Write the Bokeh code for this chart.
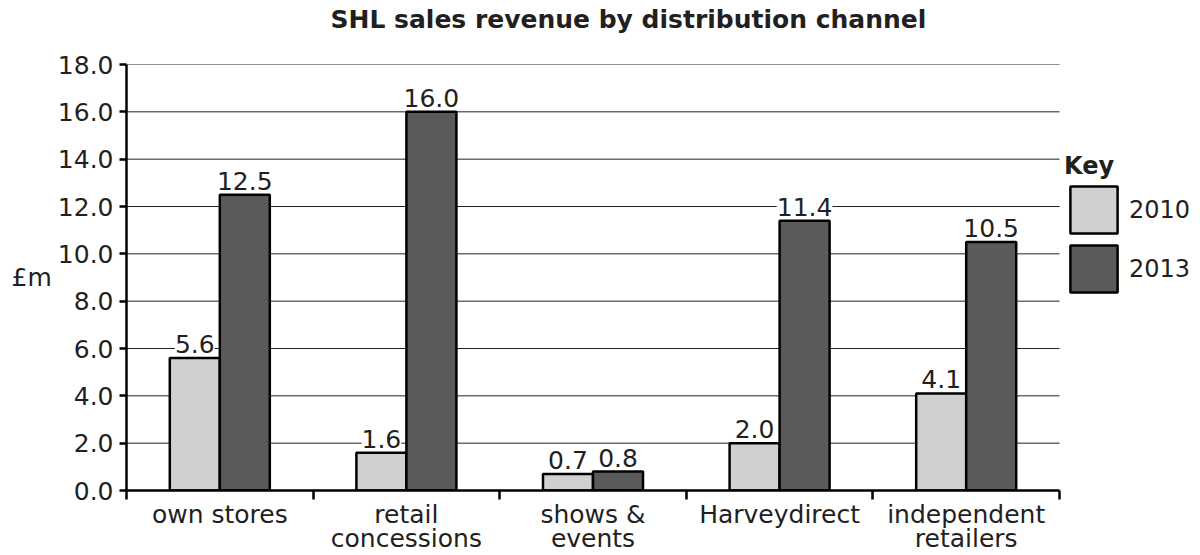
from bokeh.plotting import figure
from bokeh.models import (ColumnDataSource, FixedTicker, NumeralTickFormatter,
                          LabelSet, Legend, LegendItem, Range1d)
from bokeh.core.properties import value
from bokeh.embed import file_html
from bokeh.resources import INLINE

categories = ["own stores", "retail\nconcessions", "shows &\nevents",
              "Harveydirect", "independent\nretailers"]
sales_2010 = [5.6, 1.6, 0.7, 2.0, 4.1]
sales_2013 = [12.5, 16.0, 0.8, 11.4, 10.5]
y_ticks = [0, 2, 4, 6, 8, 10, 12, 14, 16, 18]

FONT = "DejaVu Sans"
TXT = "#231f20"
LIGHT = "#d0d0d0"
DARK = "#5a5a5a"
FS = "25px"

xs = list(range(1, len(categories) + 1))
x_lo, x_hi = 0.5, len(categories) + 0.5
bw = 0.268
src = ColumnDataSource(data=dict(
    x1=[x - bw / 2 for x in xs], x2=[x + bw / 2 for x in xs],
    v1=sales_2010, v2=sales_2013,
    t1=["%.1f" % v for v in sales_2010], t2=["%.1f" % v for v in sales_2013],
))
grid_src = ColumnDataSource(data=dict(y=y_ticks, x0=[x_lo] * len(y_ticks),
                                      x1=[x_hi] * len(y_ticks)))

# frame spans 1066 px; the categories occupy 933 px of it, the rest holds the key
FW, CW = 1066, 933
p = figure(output_backend="svg", toolbar_location=None,
           frame_width=FW, frame_height=426,
           x_range=Range1d(x_lo, x_lo + 5 * FW / CW), y_range=Range1d(0, 18),
           min_border_left=126, min_border_right=8, min_border_top=64,
           min_border_bottom=65)
p.outline_line_color = None
p.xgrid.grid_line_color = None
p.ygrid.grid_line_color = None

p.segment(x0="x0", y0="y", x1="x1", y1="y", source=grid_src,
          line_color="#222222", line_width=1, level="underlay")

p.title.text = "SHL sales revenue by distribution channel\n"
p.title.align = "left"
p.title.vertical_align = "top"
p.title.offset = 204
p.title.text_font = FONT
p.title.text_font_size = FS
p.title.text_font_style = "bold"
p.title.text_color = TXT
p.title.text_line_height = 1.0
p.title.standoff = 0

r1 = p.vbar(x="x1", top="v1", width=bw, source=src, fill_color=LIGHT,
            line_color="black", line_width=2.5)
r2 = p.vbar(x="x2", top="v2", width=bw, source=src, fill_color=DARK,
            line_color="black", line_width=2.5)

for col_x, col_v, col_t in (("x1", "v1", "t1"), ("x2", "v2", "t2")):
    ls = LabelSet(x=col_x, y=col_v, text=col_t, source=src, text_align="center",
                  text_baseline="bottom", y_offset=5, text_font=value(FONT),
                  text_font_size=value(FS), text_color=TXT,
                  background_fill_color="white")
    p.add_layout(ls)

# y axis
ya = p.yaxis[0]
ya.ticker = FixedTicker(ticks=y_ticks)
ya.formatter = NumeralTickFormatter(format="0.0")
ya.axis_line_width = 2.5
ya.axis_line_color = "black"
ya.major_tick_out = 7
ya.major_tick_in = 0
ya.major_tick_line_width = 2.5
ya.minor_tick_line_color = None
ya.major_label_text_font = FONT
ya.major_label_text_font_size = FS
ya.major_label_text_color = TXT
ya.major_label_standoff = 6
ya.axis_label = "£m"
ya.axis_label_orientation = "horizontal"
ya.axis_label_standoff = 3
ya.axis_label_text_font = FONT
ya.axis_label_text_font_size = FS
ya.axis_label_text_font_style = "normal"
ya.axis_label_text_color = TXT

# x axis
xa = p.xaxis[0]
xa.bounds = (x_lo, x_hi)
xa.ticker = FixedTicker(ticks=xs, minor_ticks=[x - 0.5 for x in xs] + [x_hi])
xa.major_label_overrides = {x: c for x, c in zip(xs, categories)}
xa.axis_line_width = 2.5
xa.axis_line_color = "black"
xa.major_tick_out = 0
xa.major_tick_in = 0
xa.minor_tick_out = 9
xa.minor_tick_in = 0
xa.minor_tick_line_width = 2.5
xa.minor_tick_line_color = "black"
xa.major_label_text_font = FONT
xa.major_label_text_font_size = FS
xa.major_label_text_color = TXT
xa.major_label_text_line_height = 0.86
xa.major_label_standoff = 0

legend = Legend(items=[LegendItem(label="2010", renderers=[r1]),
                       LegendItem(label="2013", renderers=[r2])],
                location=(938, 192), title="Key",
                title_text_font=FONT, title_text_font_size="24px",
                title_text_font_style="bold", title_text_color=TXT,
                title_standoff=0,
                label_text_font=FONT, label_text_font_size="24px",
                label_text_color=TXT, glyph_width=59, glyph_height=59,
                label_height=59, spacing=0, label_standoff=6, padding=0,
                margin=0, border_line_color=None, background_fill_alpha=0)
p.add_layout(legend)

open("out.html", "w").write(file_html(p, INLINE))
